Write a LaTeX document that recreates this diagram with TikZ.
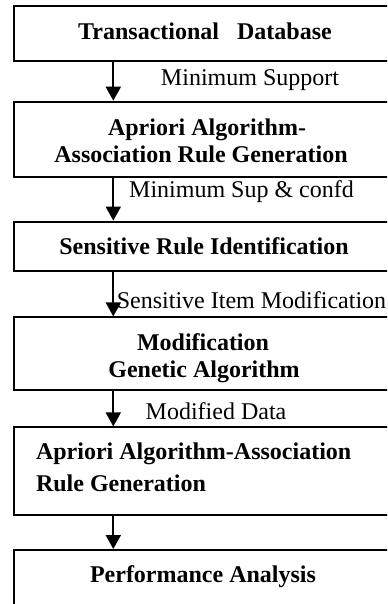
\documentclass[tikz,border=0pt]{standalone}
\usepackage{fontspec}
\setmainfont{Liberation Serif}
\usepackage{tikz}
\usetikzlibrary{arrows.meta}
\tikzset{box/.style={draw, rectangle, minimum width=190pt, inner sep=0pt},
  title/.style={font=\fontsize{12}{14}\selectfont\bfseries, inner sep=0pt, anchor=base},
  note/.style={font=\fontsize{12}{14}\selectfont, inner sep=0pt, anchor=base},
  arr/.style={-{Triangle[width=7.5pt,length=7pt]}}}

\begin{document}
\begin{tikzpicture}[x=0.5pt,y=-0.5pt,line width=1pt]
  \useasboundingbox (0,0) rectangle (387,604);
  \clip (0,0) rectangle (387,604);
  % boxes
  \node[box, minimum height=27.5pt] (db)   at (204, 33.5) {};
  \node[box, minimum height=37.5pt] (ap)   at (204,139.2) {};
  \node[box, minimum height=24.7pt] (sens) at (204,246.3) {};
  \node[box, minimum height=36.3pt] (ga)   at (204,353.7) {};
  \node[box, minimum height=43.8pt] (ap2)  at (204,471.2) {};
  \node[box, minimum height=40pt]   (perf) at (204,590.0) {};
  % texts (one node per line, at the baseline)
  \node[title] (tdb)    at (205, 39.3) {Transactional\ \ \ Database};
  \node[title] (tap)    at (207,136.0) {Apriori Algorithm-};
  \node[title] (tapb)   at (201,162.3) {Association Rule Generation};
  \node[title] (tsens)  at (204,254.3) {Sensitive Rule Identification};
  \node[title] (tga)    at (203,350.0) {Modification};
  \node[title] (tgab)   at (204,377.3) {Genetic Algorithm};
  \node[title, anchor=base west] (tap2)  at (35,459.0) {Apriori Algorithm-Association};
  \node[title, anchor=base west] (tap2b) at (35,491.7) {Rule Generation};
  \node[title] (tperf)  at (203,582.3) {Performance Analysis};
  % arrows
  \coordinate (ax) at (113.3,0);
  \draw[arr] (db.south -| ax)   -- (ap.north -| ax);
  \draw[arr] (ap.south -| ax)   -- (sens.north -| ax);
  \draw[arr] (sens.south -| ax) -- (ga.north -| ax);
  \draw[arr] (ga.south -| ax)   -- (ap2.north -| ax);
  \draw[arr] (ap2.south -| ax)  -- (perf.north -| ax);
  % labels
  \node[note] (l1) at (250, 86) {Minimum Support};
  \node[note] (l2) at (241.5,198) {Minimum Sup \& confd};
  \node[note] (l3) at (251.5,308) {Sensitive Item Modification};
  \node[note] (l4) at (216,419) {Modified Data};
\end{tikzpicture}
\end{document}
